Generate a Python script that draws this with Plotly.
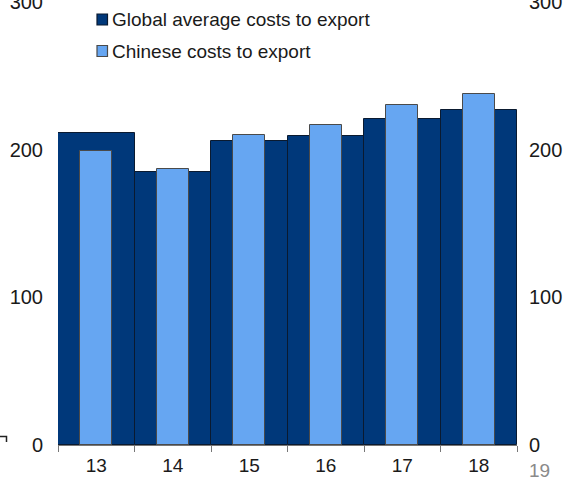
import plotly.graph_objects as go

# Export costs by year
years = ["13", "14", "15", "16", "17", "18"]
global_avg = [211, 185, 206, 209, 221, 227]
chinese = [199, 187, 210, 217, 230, 238]
y_ticks = [0, 100, 200, 300]
series_names = ["Global average costs to export", "Chinese costs to export"]

DARK = "rgb(0,56,122)"
LIGHT = "rgb(102,166,242)"
DARK_EDGE = "#0a1a30"
LIGHT_EDGE = "#4a4a4a"
FONT = "Liberation Sans, Arial, sans-serif"

W, H = 568, 480
ML, MR, MT, MB = 58, 51, 2, 35
PW, PH = W - ML - MR, H - MT - MB


def px(x):
    return (x - ML) / PW


def py(y):
    return (H - MB - y) / PH


fig = go.Figure()
fig.add_trace(go.Bar(
    x=years, y=global_avg, name=series_names[0],
    width=1.0, marker=dict(color=DARK, line=dict(color=DARK_EDGE, width=1)),
))
fig.add_trace(go.Bar(
    x=years, y=chinese, name=series_names[1],
    width=0.42, marker=dict(color=LIGHT, line=dict(color=LIGHT_EDGE, width=1)),
))
# mirror axis on the right
fig.add_trace(go.Scatter(x=years, y=global_avg, yaxis="y2", mode="markers",
                         marker=dict(opacity=0), showlegend=False, hoverinfo="skip"))

fig.update_layout(
    width=W, height=H,
    margin=dict(l=ML, r=MR, t=MT, b=MB, autoexpand=False),
    paper_bgcolor="white", plot_bgcolor="white",
    barmode="overlay", bargap=0,
    font=dict(family=FONT, size=20, color="#1a1a1a"),
    showlegend=False,
    xaxis=dict(type="category", tickson="boundaries", ticks="outside",
               ticklen=6, tickcolor="#777", showline=True, linecolor="#777",
               linewidth=1, showgrid=False, range=[-0.5, 5.5],
               tickfont=dict(size=19), ticklabelstandoff=3, automargin=False),
    yaxis=dict(range=[0, 300], tickvals=y_ticks, showgrid=False,
               showline=False, zeroline=False, ticks="",
               ticklabelstandoff=14, tickfont=dict(size=20),
               ticklabeloverflow="allow", automargin=False),
    yaxis2=dict(range=[0, 300], tickvals=y_ticks, overlaying="y", side="right",
                showgrid=False, showline=False, zeroline=False, ticks="",
                ticklabelstandoff=11, tickfont=dict(size=20),
                ticklabeloverflow="allow", automargin=False),
)

# legend: swatches and labels
legend_rows = [(series_names[0], DARK, DARK_EDGE, 19.5),
               (series_names[1], LIGHT, LIGHT_EDGE, 51)]
for name, fill, edge, yc in legend_rows:
    fig.add_shape(type="rect", xref="paper", yref="paper",
                  x0=px(97), x1=px(107.5), y0=py(yc - 5.5), y1=py(yc + 5.5),
                  fillcolor=fill, line=dict(color=edge, width=1.2))
    fig.add_annotation(text=name, xref="paper", yref="paper",
                       x=px(110), y=py(yc), xanchor="left", yanchor="middle",
                       showarrow=False,
                       font=dict(size=19, color="#1a1a1a", family=FONT))

fig.add_annotation(text="19", xref="paper", yref="paper", x=px(539), y=py(470),
                   xanchor="center", yanchor="middle", showarrow=False,
                   font=dict(size=19, color="#8a8a8a", family=FONT))

# small corner mark at the lower left
fig.add_shape(type="path", xref="paper", yref="paper",
              path=f"M {px(0)} {py(436.5)} L {px(6.5)} {py(436.5)} L {px(6.5)} {py(442)}",
              line=dict(color="#222", width=1.5))

fig.write_html("out.html")
